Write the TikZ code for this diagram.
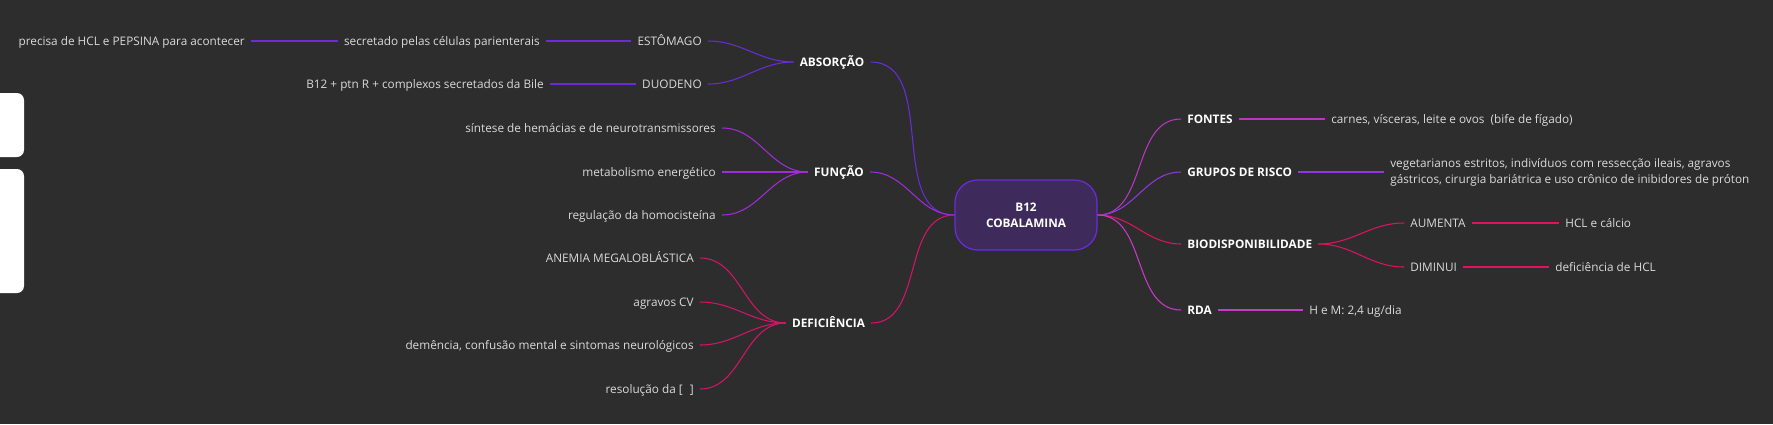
\documentclass[tikz,border=0pt]{standalone}
\usepackage{fontspec}
\setmainfont{Open Sans}
\usetikzlibrary{positioning}
\definecolor{bg}{HTML}{2D2D2D}
\definecolor{corefill}{HTML}{3F2B5B}
\definecolor{coreline}{HTML}{6A2BDB}
\definecolor{ab}{HTML}{6A2BD9}
\definecolor{fn}{HTML}{A12CD9}
\definecolor{df}{HTML}{D6136B}
\definecolor{ft}{HTML}{B935C2}
\definecolor{gr}{HTML}{9235E2}
\definecolor{bd}{HTML}{E0125E}
\definecolor{rd}{HTML}{C93AC9}
\definecolor{txt}{HTML}{DADADA}
\tikzset{
  note/.style={font=\fontsize{6.7}{9}\selectfont, text=txt, inner xsep=3.4pt, inner ysep=1pt},
  leaf/.style={note, text height=5.6pt, text depth=0pt},
  topic/.style={leaf, font=\fontsize{6.7}{9}\selectfont\bfseries, text=white},
  core/.style={draw=coreline, fill=corefill, line width=0.7pt, rounded corners=0.45cm, minimum width=2.84cm, minimum height=1.4cm, align=center, font=\fontsize{6.7}{9.1}\selectfont\bfseries, text=white},
  link/.style={line width=0.6pt, draw=#1},
  panel/.style={fill=white, rounded corners=4pt},
}
% leaves on the left of a topic
\newcommand{\leavesL}[3]{%
  \foreach \nm/\yy/\txt in {#3} {%
    \node[leaf, anchor=east] (\nm) at (#2,-\yy) {\txt};
    \draw[link=#1] (\nm.east) to[out=0,in=180] (#1.west);
  }}

\begin{document}
\begin{tikzpicture}[x=0.02cm,y=0.02cm]
  \useasboundingbox (0,0) rectangle (1773,-424);
  \fill[bg] (0,0) rectangle (1773,-424);
  \fill[panel] (-10,-93) rectangle (24,-157);
  \fill[panel] (-10,-169) rectangle (24,-293);

  \node[core] (b12) at (1026,-215) {B12\\COBALAMINA};

  % left side
  \node[topic] (ab) at (832,-62) {ABSORÇÃO};
  \node[topic] (fn) at (839,-172) {FUNÇÃO};
  \node[topic] (df) at (828.5,-323) {DEFICIÊNCIA};
  \foreach \t in {ab,fn,df}
    \draw[link=\t] (b12.west) to[out=180,in=0] (\t.east);

  \leavesL{ab}{708}{est/41/ESTÔMAGO, duo/84/DUODENO}
  \node[leaf, anchor=east] (sec) at (546,-41) {secretado pelas células parienterais};
  \node[leaf, anchor=east] (hcl) at (251,-41) {precisa de HCL e PEPSINA para acontecer};
  \node[leaf, anchor=east] (bile) at (550,-84) {B12 + ptn R + complexos secretados da Bile};
  \draw[link=ab] (hcl) -- (sec);
  \draw[link=ab] (sec) -- (est);
  \draw[link=ab] (bile) -- (duo);

  \leavesL{fn}{722}{sin/128/síntese de hemácias e de neurotransmissores,
    met/172/metabolismo energético, hom/215/regulação da homocisteína}
  \leavesL{df}{700}{ane/258/ANEMIA MEGALOBLÁSTICA, agr/302/agravos CV,
    dem/345/{demência, confusão mental e sintomas neurológicos},
    res/389/{resolução da [\hspace{0.6em}]}}

  % right side
  \node[topic, anchor=west] (ft) at (1181,-119) {FONTES};
  \node[topic, anchor=west] (gr) at (1181,-172) {GRUPOS DE RISCO};
  \node[topic, anchor=west] (bd) at (1181,-244) {BIODISPONIBILIDADE};
  \node[topic, anchor=west] (rd) at (1181,-310) {RDA};
  \foreach \t in {ft,gr,bd,rd}
    \draw[link=\t] (b12.east) to[out=0,in=180] (\t.west);

  \node[leaf, anchor=west] (car) at (1325,-119) {carnes, vísceras, leite e ovos\ \ (bife de fígado)};
  \node[note, anchor=west, align=left] (veg) at (1384,-172)
    {vegetarianos estritos, indivíduos com ressecção ileais, agravos\\gástricos, cirurgia bariátrica e uso crônico de inibidores de próton};
  \node[leaf, anchor=west] (aum) at (1404,-223) {AUMENTA};
  \node[leaf, anchor=west] (dim) at (1404,-267) {DIMINUI};
  \node[leaf, anchor=west] (cal) at (1559,-223) {HCL e cálcio};
  \node[leaf, anchor=west] (dhc) at (1549,-267) {deficiência de HCL};
  \node[leaf, anchor=west] (hem) at (1303,-310) {H e M: 2,4 ug/dia};
  \draw[link=ft] (ft) -- (car);
  \draw[link=gr] (gr) -- (veg);
  \draw[link=bd] (bd.east) to[out=0,in=180] (aum.west);
  \draw[link=bd] (bd.east) to[out=0,in=180] (dim.west);
  \draw[link=bd] (aum) -- (cal);
  \draw[link=bd] (dim) -- (dhc);
  \draw[link=rd] (rd) -- (hem);
\end{tikzpicture}
\end{document}
